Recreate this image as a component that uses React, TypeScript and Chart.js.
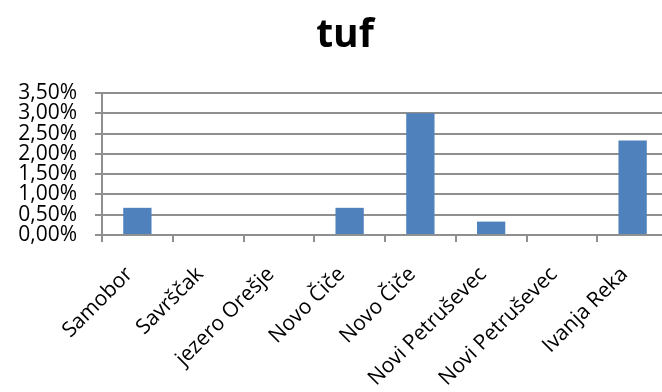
import React, { useEffect, useRef } from "react";
import { Chart, registerables } from "chart.js";

Chart.register(...registerables);

const categories = [
  "Samobor",
  "Savrščak",
  "jezero Orešje",
  "Novo Čiče",
  "Novo Čiče",
  "Novi Petruševec",
  "Novi Petruševec",
  "Ivanja Reka",
];
const tufValues = [0.67, 0, 0, 0.67, 3.0, 0.33, 0, 2.33];
const yTickValues = [0, 0.5, 1, 1.5, 2, 2.5, 3, 3.5];
const chartTitle = "tuf";

const FONT = "'Open Sans', sans-serif";
const GRID = "#8f8f8f";

const titlePlugin = {
  id: "customTitle",
  afterDraw(chart: any) {
    const ctx = chart.ctx;
    ctx.save();
    ctx.font = `bold 39px ${FONT}`;
    ctx.fillStyle = "#000";
    ctx.textAlign = "center";
    ctx.textBaseline = "alphabetic";
    ctx.fillText(chartTitle, 345, 47);
    ctx.restore();
  },
};

export default function App() {
  const ref = useRef<HTMLCanvasElement>(null);
  useEffect(() => {
    document.body.style.margin = "0";
    const chart = new Chart(ref.current!, {
      type: "bar",
      data: {
        labels: categories,
        datasets: [
          {
            data: tufValues,
            backgroundColor: "#4F81BD",
            categoryPercentage: 1,
            barPercentage: 0.4,
          },
        ],
      },
      options: {
        animation: false,
        responsive: false,
        maintainAspectRatio: false,
        layout: { padding: { top: 93, left: 0, right: 0, bottom: 0 } },
        plugins: { legend: { display: false }, tooltip: { enabled: false } },
        scales: {
          x: {
            offset: true,
            grid: {
              drawOnChartArea: false,
              drawTicks: true,
              tickLength: 7,
              lineWidth: 2,
              color: GRID,
              offset: true,
            },
            border: { color: GRID, width: 2 },
            ticks: {
              autoSkip: false,
              maxRotation: 45,
              minRotation: 45,
              color: "#000",
              font: { family: FONT, size: 21 },
              padding: 20,
              labelOffset: -8,
            },
            afterFit: (scale: any) => {
              scale.height = 157;
              scale.paddingRight = 0;
              scale.paddingLeft = 0;
            },
          },
          y: {
            min: 0,
            max: 3.5,
            afterBuildTicks: (scale: any) => {
              scale.ticks = yTickValues.map((v) => ({ value: v }));
            },
            grid: {
              color: GRID,
              lineWidth: 2,
              tickLength: 7,
            },
            border: { color: GRID, width: 2 },
            ticks: {
              color: "#000",
              font: { family: FONT, size: 21 },
              padding: 18,
              autoSkip: false,
              callback: (v: any) => Number(v).toFixed(2).replace(".", ",") + "%",
            },
            afterFit: (scale: any) => {
              scale.width = 102;
            },
          },
        },
      },
      plugins: [titlePlugin],
    });
    return () => chart.destroy();
  }, []);
  return (
    <div
      style={{
        position: "fixed",
        left: 0,
        top: 0,
        width: 662,
        height: 392,
        overflow: "hidden",
      }}
    >
      <canvas ref={ref} width={668} height={392} style={{ display: "block" }} />
    </div>
  );
}
